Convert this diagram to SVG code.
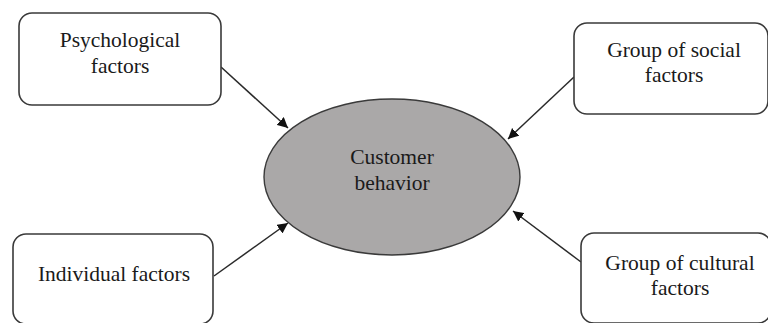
<svg xmlns="http://www.w3.org/2000/svg" width="768" height="323" viewBox="0 0 768 323">
<style>
.box{fill:#fff;stroke:#3a3a3a;stroke-width:1.6}
.ell{fill:#aaa8a8;stroke:#3a3a3a;stroke-width:1.4}
.t{font-family:"Liberation Serif","Times New Roman",serif;font-size:21.5px;fill:#1a1a1a;text-anchor:middle}
.c{stroke:#2a2a2a;stroke-width:1.5;fill:none;marker-end:url(#ah)}
</style>
<defs>
<marker id="ah" viewBox="0 0 10 10" refX="10" refY="5" markerWidth="7" markerHeight="7" orient="auto" markerUnits="strokeWidth">
<path d="M0,0 L10,5 L0,10 z" fill="#111"/>
</marker>
</defs>
<rect width="768" height="323" fill="#fff"/>
<g id="connectors">
<line class="c" x1="221" y1="67" x2="288" y2="128"/>
<line class="c" x1="574" y1="77" x2="508" y2="139"/>
<line class="c" x1="214" y1="276" x2="288" y2="223"/>
<line class="c" x1="581" y1="262" x2="513" y2="211"/>
</g>
<g id="center">
<ellipse class="ell" cx="392" cy="177" rx="128" ry="78"/>
<text class="t" x="392" y="164">Customer</text>
<text class="t" x="392" y="190">behavior</text>
</g>
<g id="psychological">
<rect class="box" x="19" y="13" width="202" height="92" rx="13"/>
<text class="t" x="120" y="47">Psychological</text>
<text class="t" x="120" y="73">factors</text>
</g>
<g id="social">
<rect class="box" x="574" y="23" width="194" height="91" rx="13"/>
<text class="t" x="674" y="57">Group of social</text>
<text class="t" x="674" y="82">factors</text>
</g>
<g id="individual">
<rect class="box" x="13" y="234" width="200" height="90" rx="13"/>
<text class="t" x="114" y="281">Individual factors</text>
</g>
<g id="cultural">
<rect class="box" x="581" y="233" width="190" height="90" rx="13"/>
<text class="t" x="680" y="270">Group of cultural</text>
<text class="t" x="680" y="295">factors</text>
</g>
</svg>
